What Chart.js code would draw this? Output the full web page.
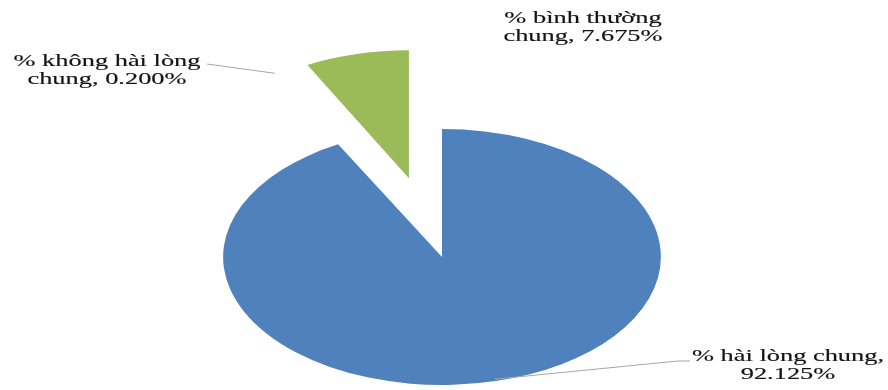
<!DOCTYPE html>
<html>
<head>
<meta charset="utf-8">
<script src="https://cdn.jsdelivr.net/npm/chart.js@4"></script>
<style>
    html, body { margin: 0; padding: 0; background: #ffffff; }
    #chart-wrap { width: 888px; height: 390px; }
</style>
</head>
<body>
<div id="chart-wrap"><canvas id="pie-chart" width="888" height="390"></canvas></div>
<script>
    // data
    const categories = ["% hài lòng chung", "% không hài lòng chung", "% bình thường chung"];
    const shares = [92.125, 0.200, 7.675];

    const sliceColors = ["#4f81bd", "#ffffff", "#9bbb59"];
    const explodeBy = [0, 82, 81];
    const stretchX = 1.71;

    // label boxes: centre x, first baseline, words on first line, leader line start
    const labelStyle = [
        { x: 788, y: 361, words: 4, leader: [[690, 361], [678, 361]] },
        { x: 107, y: 66, words: 4, leader: [[207, 64]] },
        { x: 583, y: 23, words: 3, leader: null }
    ];

    const ellipsePlugin = {
        id: "ellipse",
        afterDatasetsUpdate: (chart) => {
            chart.getDatasetMeta(0).data.forEach((arc, i) => {
                const mid = (arc.startAngle + arc.endAngle) / 2;
                arc.x += Math.cos(mid) * explodeBy[i];
                arc.y += Math.sin(mid) * explodeBy[i];
            });
        },
        beforeDatasetsDraw: (chart) => {
            const { ctx, chartArea } = chart;
            const cx = (chartArea.left + chartArea.right) / 2;
            ctx.save();
            ctx.translate(cx, 0);
            ctx.scale(stretchX, 1);
            ctx.translate(-cx, 0);
        },
        afterDatasetsDraw: (chart) => {
            chart.ctx.restore();
        }
    };

    const labelPlugin = {
        id: "sliceLabels",
        afterDraw: (chart) => {
            const { ctx, chartArea } = chart;
            const cx = (chartArea.left + chartArea.right) / 2;
            const arcs = chart.getDatasetMeta(0).data;

            categories.forEach((name, i) => {
                const style = labelStyle[i];
                const words = `${name}, ${shares[i].toFixed(3)}%`.split(" ");
                const lines = [words.slice(0, style.words).join(" "), words.slice(style.words).join(" ")];

                ctx.save();
                ctx.fillStyle = "#141414";
                ctx.strokeStyle = "#141414";
                ctx.lineWidth = 0.15;
                ctx.font = "16.5px 'Liberation Serif', 'Times New Roman', serif";
                ctx.textAlign = "center";
                ctx.textBaseline = "alphabetic";
                lines.forEach((line, k) => {
                    ctx.save();
                    ctx.translate(style.x, style.y + k * 18);
                    ctx.scale(1.6, 1);
                    ctx.fillText(line, 0, 0);
                    ctx.strokeText(line, 0, 0);
                    ctx.restore();
                });
                ctx.restore();

                if (!style.leader) return;
                const arc = arcs[i];
                const mid = (arc.startAngle + arc.endAngle) / 2;
                const r = arc.outerRadius - 2;
                const ax = cx + stretchX * (arc.x - cx + Math.cos(mid) * r);
                const ay = arc.y + Math.sin(mid) * r;

                ctx.save();
                ctx.strokeStyle = "#a6a6a6";
                ctx.lineWidth = 1;
                ctx.beginPath();
                ctx.moveTo(style.leader[0][0], style.leader[0][1]);
                style.leader.slice(1).forEach(([px, py]) => ctx.lineTo(px, py));
                ctx.lineTo(ax, ay);
                ctx.stroke();
                ctx.restore();
            });
        }
    };

    new Chart(document.getElementById("pie-chart"), {
        type: "pie",
        data: {
            labels: categories,
            datasets: [{
                data: shares,
                backgroundColor: sliceColors,
                borderWidth: 0,
                clip: false
            }]
        },
        options: {
            responsive: false,
            devicePixelRatio: 1,
            animation: false,
            radius: 128,
            layout: { padding: { top: 124, bottom: 0, left: 0, right: 4 } },
            plugins: {
                legend: { display: false },
                tooltip: { enabled: false }
            }
        },
        plugins: [ellipsePlugin, labelPlugin]
    });
</script>
</body>
</html>
